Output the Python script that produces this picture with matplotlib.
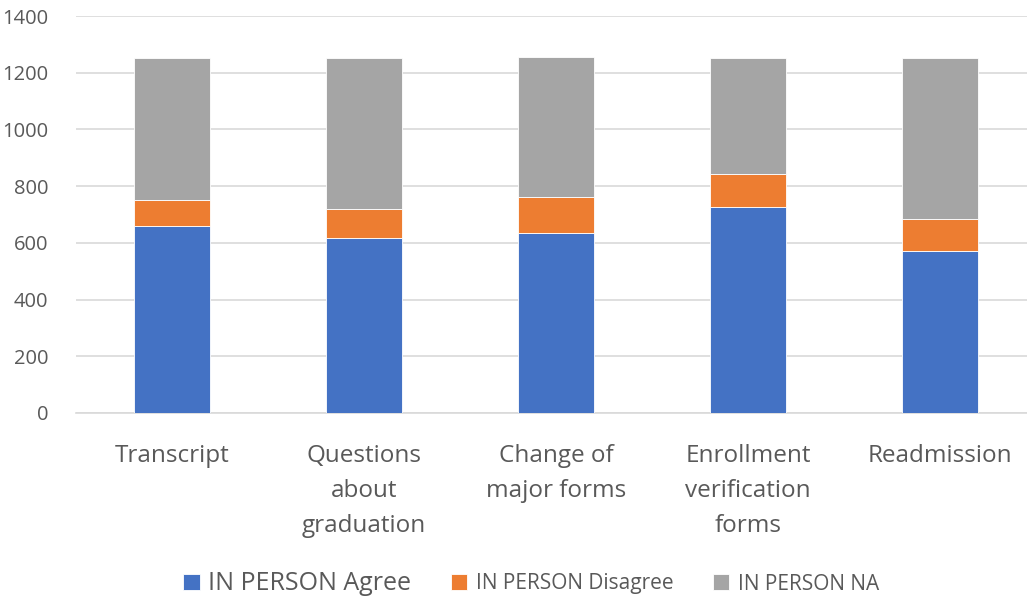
import matplotlib
matplotlib.use("Agg")
import matplotlib.pyplot as plt
import numpy as np

categories = ["Transcript", "Questions\nabout\ngraduation", "Change of\nmajor forms",
              "Enrollment\nverification\nforms", "Readmission"]
agree = [660, 616, 633, 725, 570]
disagree = [90, 104, 127, 118, 113]
na = [502, 531, 495, 408, 569]

series_names = ["IN PERSON Agree", "IN PERSON Disagree", "IN PERSON NA"]
colors = ["#4472C4", "#ED7D31", "#A5A5A5"]

plt.rcParams['font.family'] = ['Open Sans', 'DejaVu Sans']

fig = plt.figure(figsize=(10.27, 6.0), dpi=100)
ax = fig.add_axes([76 / 1027, 1 - 413 / 600, 951 / 1027, (413 - 16) / 600])

x = np.arange(len(categories))
width = 0.4
bottom = np.zeros(len(categories))
handles = []
for vals, name, col in zip([agree, disagree, na], series_names, colors):
    bars = ax.bar(x, vals, width, bottom=bottom, color=col, label=name,
                  edgecolor="white", linewidth=0.6, zorder=3)
    handles.append(bars)
    bottom += np.array(vals)

ax.set_ylim(0, 1400)
ax.set_yticks(range(0, 1401, 200))
ax.set_xlim(-0.5, 4.453)
ax.set_xticks(x)
ax.set_xticklabels(categories, fontsize=17.5, color="#595959", linespacing=1.62)
ax.tick_params(axis="y", labelsize=14.5, labelcolor="#595959", length=0, pad=20)
ax.tick_params(axis="x", length=0, pad=22)
ax.grid(axis="y", color="#D9D9D9", linewidth=1.2, zorder=0)
for s in ["top", "right", "left"]:
    ax.spines[s].set_visible(False)
ax.spines["bottom"].set_color("#D9D9D9")
ax.spines["bottom"].set_linewidth(1.2)

leg = fig.legend(handles=handles, labels=series_names, loc="center",
                 bbox_to_anchor=(531 / 1027, 1 - 583 / 600), ncol=3, frameon=False,
                 fontsize=15, handlelength=0.8, handleheight=0.8,
                 handletextpad=0.4, columnspacing=1.9)
for t in leg.get_texts():
    t.set_color("#595959")
leg.get_texts()[0].set_fontsize(18)

fig.savefig("out.png", dpi=100)
